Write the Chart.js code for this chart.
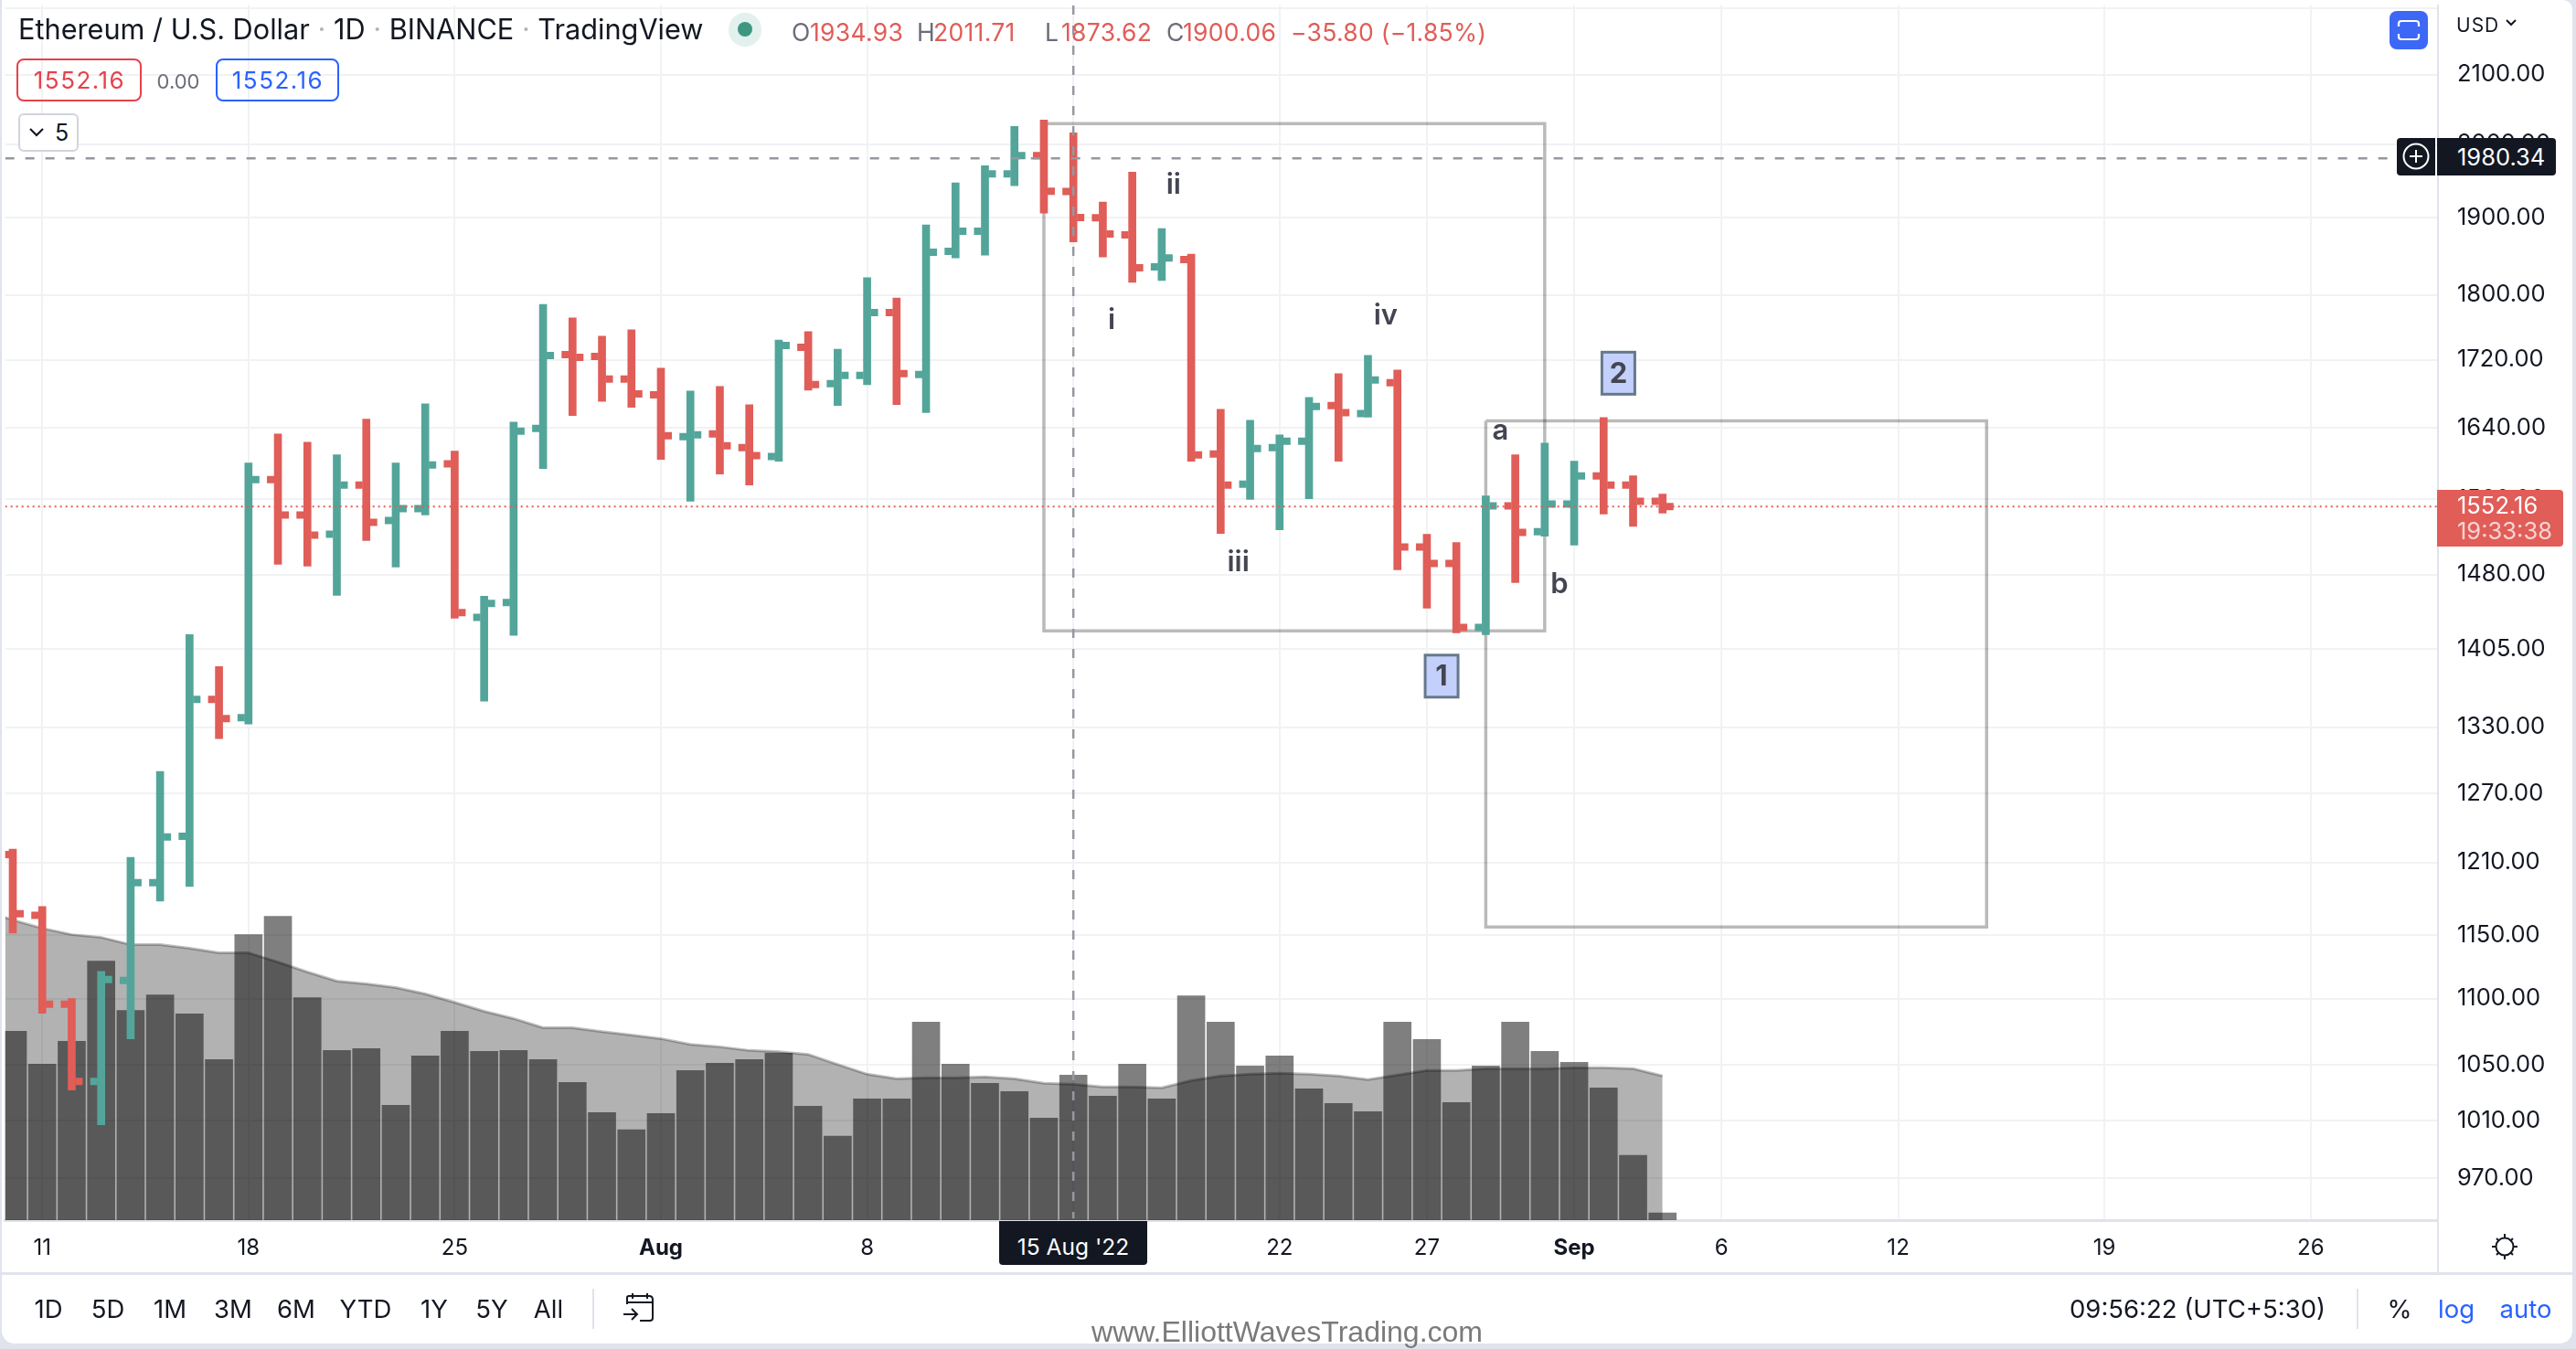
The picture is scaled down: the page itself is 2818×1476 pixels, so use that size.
<!DOCTYPE html>
<html>
<head>
<meta charset="utf-8">
<title>Ethereum / U.S. Dollar</title>
<script src="https://cdn.jsdelivr.net/npm/chart.js@4/dist/chart.umd.js"></script>
<style>
  html, body { margin: 0; padding: 0; background: #e0e3eb; }
  body { width: 2818px; height: 1476px; overflow: hidden; font-family: Inter, sans-serif; color: #131722; position: relative; }
  #frame { position: absolute; left: 2px; top: 0; width: 2812px; height: 1470px; background: #fff; border-radius: 0 10px 14px 14px; }
  canvas { position: absolute; left: 0; top: 0; }
  .t { position: absolute; white-space: nowrap; line-height: 1; }
  .c { transform: translateX(-50%); }
  .red { color: #e05d58; }
  .blue { color: #2962ff; }
  .ohlc { font-size: 26.5px; letter-spacing: 0.3px; top: 22px; }
  .bar { font-size: 27.5px; top: 1419px; }
  .box { position: absolute; box-sizing: border-box; }
</style>
</head>
<body>
<div id="frame"></div>
<canvas id="chart" width="2818" height="1476"></canvas>

<div class="t" style="left:20px;top:17px;font-size:30.7px">Ethereum / U.S. Dollar <span style="color:#b2b5be">·</span> 1D <span style="color:#b2b5be">·</span> BINANCE <span style="color:#b2b5be">·</span> TradingView</div>
<div class="box" style="left:797px;top:14px;width:36px;height:37px;border-radius:18px;background:#e3f1ee"></div>
<div class="box" style="left:807px;top:24px;width:16px;height:16px;border-radius:8px;background:#3f9680"></div>
<div class="t ohlc" style="left:866px;color:#6a6d78">O</div><div class="t ohlc red" style="left:886px">1934.93</div>
<div class="t ohlc" style="left:1003px;color:#6a6d78">H</div><div class="t ohlc red" style="left:1021px">2011.71</div>
<div class="t ohlc" style="left:1143px;color:#6a6d78">L</div><div class="t ohlc red" style="left:1161px">1873.62</div>
<div class="t ohlc" style="left:1276px;color:#6a6d78">C</div><div class="t ohlc red" style="left:1294px">1900.06</div>
<div class="t ohlc red" style="left:1412px">−35.80 (−1.85%)</div>

<div class="box" style="left:18px;top:64px;width:137px;height:47px;border:2px solid #e5424b;border-radius:8px"></div>
<div class="t c" style="left:87px;top:75px;font-size:26px;letter-spacing:1.5px;color:#e5424b">1552.16</div>
<div class="t c" style="left:195px;top:78px;font-size:22px;color:#6a6d78">0.00</div>
<div class="box" style="left:236px;top:64px;width:135px;height:47px;border:2px solid #2962ff;border-radius:8px"></div>
<div class="t c blue" style="left:304px;top:75px;font-size:26px;letter-spacing:1.5px">1552.16</div>
<div class="box" style="left:20px;top:124px;width:66px;height:42px;border:2px solid #d1d4dc;border-radius:6px;background:#fff"></div>
<svg class="box" style="left:31px;top:138px" width="18" height="14"><path d="M2 3 L9 10 L16 3" fill="none" stroke="#131722" stroke-width="2.2"/></svg>
<div class="t" style="left:60px;top:133px;font-size:25px">5</div>

<div class="box" style="left:2614px;top:12px;width:42px;height:42px;background:#3d68f5;border-radius:8px"></div>
<svg class="box" style="left:2622px;top:20px" width="26" height="26"><path d="M2 9 V6 Q2 3 5 3 H21 Q24 3 24 6 V9 M2 17 V20 Q2 23 5 23 H21 Q24 23 24 20 V17" fill="none" stroke="#fff" stroke-width="2.2"/></svg>
<div class="t" style="left:2687px;top:17px;font-size:21px;letter-spacing:1px">USD</div>
<svg class="box" style="left:2740px;top:20px" width="14" height="10"><path d="M2 2 L7 7 L12 2" fill="none" stroke="#131722" stroke-width="2"/></svg>

<div class="box" style="left:2622px;top:151px;width:42px;height:41px;background:#131722;border-radius:4px 0 0 4px"></div>
<svg class="box" style="left:2628px;top:156px" width="30" height="30"><circle cx="15" cy="15" r="13.5" fill="none" stroke="#fff" stroke-width="2"/><path d="M15 8 V22 M8 15 H22" stroke="#fff" stroke-width="2"/></svg>
<div class="box" style="left:2666px;top:151px;width:130px;height:41px;background:#131722;border-radius:0 4px 4px 0"></div>
<div class="t" style="left:2688px;top:159px;font-size:25.5px;color:#fff">1980.34</div>

<div class="box" style="left:2666px;top:536px;width:138px;height:62px;background:#e05d58;border-radius:0 4px 4px 0"></div>
<div class="t" style="left:2688px;top:540px;font-size:25.5px;color:#fff">1552.16</div>
<div class="t" style="left:2688px;top:568px;font-size:25.5px;color:#f7d4d2">19:33:38</div>

<div class="box" style="left:1093px;top:1336px;width:162px;height:48px;background:#131722;border-radius:0 0 4px 4px"></div>
<div class="t c" style="left:1174px;top:1352px;font-size:24.5px;color:#fff">15 Aug '22</div>

<svg class="box" style="left:2724px;top:1348px" width="32" height="32"><circle cx="16" cy="16" r="9.5" fill="none" stroke="#131722" stroke-width="2"/><path d="M16 2 V7 M16 25 V30 M2 16 H7 M25 16 H30 M7 7 L10 10 M25 7 L22 10 M7 25 L10 22 M25 25 L22 22" stroke="#131722" stroke-width="2"/></svg>

<div class="box" style="left:2px;top:1392px;width:2812px;height:3px;background:#e0e3eb"></div>
<div class="box" style="left:2666px;top:1336px;width:2px;height:56px;background:#e0e3eb"></div>

<div class="t c bar" style="left:53px">1D</div>
<div class="t c bar" style="left:118px">5D</div>
<div class="t c bar" style="left:186px">1M</div>
<div class="t c bar" style="left:255px">3M</div>
<div class="t c bar" style="left:324px">6M</div>
<div class="t c bar" style="left:400px">YTD</div>
<div class="t c bar" style="left:475px">1Y</div>
<div class="t c bar" style="left:538px">5Y</div>
<div class="t c bar" style="left:600px">All</div>
<div class="box" style="left:648px;top:1410px;width:2px;height:44px;background:#e0e3eb"></div>
<svg class="box" style="left:680px;top:1414px" width="38" height="34"><path d="M6 13 V6 Q6 4 8 4 H30 Q34 4 34 8 V28 Q34 31 31 31 H20 M6 11 H34 M12 1 V7 M28 1 V7 M2 24 H16 M11 18 L17 24 L11 30" fill="none" stroke="#131722" stroke-width="2"/></svg>

<div class="t bar" style="left:2264px">09:56:22 (UTC+5:30)</div>
<div class="box" style="left:2578px;top:1410px;width:2px;height:44px;background:#e0e3eb"></div>
<div class="t c bar" style="left:2625px">%</div>
<div class="t c bar blue" style="left:2687px">log</div>
<div class="t c bar blue" style="left:2763px">auto</div>
<div class="t c" style="left:1408px;top:1441px;font-size:32px;font-family:'Liberation Sans',sans-serif;color:#7a7a7a">www.ElliottWavesTrading.com</div>

<script>
// day index 0 is 11 Jul 2022, first bar is one day earlier
const firstDay = -1;
const opens = [1216.6,1166,1095.7,1038,1114,1193,1232.3,1356.2,1338.9,1581.7,1542.9,1522.3,1575.6,1537,1549.9,1599.1,1436.3,1451.2,1639.3,1726.3,1724,1696.8,1678.3,1629.9,1633,1617.5,1607.3,1735,1691.4,1701.2,1777.8,1702.3,1855.5,1881.8,1959,1984.2,1934.93,1899.8,1877,1835.5,1844.8,1610.3,1576.6,1617.5,1624.7,1665.7,1656.4,1692.5,1508.8,1491.5,1426.3,1552.8,1525.1,1554.8,1585.8,1575.6,1557.8];
const highs = [1221.2,1173.2,1099.9,1121.1,1214.3,1289.4,1419.1,1387.6,1600.1,1633,1623.6,1609.3,1649.9,1600.1,1667.8,1613.4,1457.7,1646.7,1788,1771.1,1748.5,1756.4,1709.9,1682.7,1688.1,1666.8,1744,1754.2,1732.8,1821.6,1796,1890.2,1946.6,1970.1,2025,2034,2016,1920.6,1961.4,1885.4,1851.9,1661.5,1648.8,1632,1675.2,1703.4,1725.2,1707.8,1522.3,1513.6,1563.7,1609.3,1622.6,1602.2,1651.9,1585.8,1565.7];
const lows = [1151.6,1088.7,1031.8,1007,1069.4,1177.6,1189.8,1319.5,1333,1490.6,1488.7,1458.6,1515.5,1487.7,1542.9,1435.4,1354.4,1418.2,1594,1654.1,1670.6,1663.6,1604.2,1557.8,1587.9,1575.6,1602.2,1683.8,1665.7,1690.3,1666.8,1657.5,1847.1,1850.7,1942.9,1905.8,1868,1848.3,1815.8,1818.1,1602.2,1523.2,1559.8,1527.1,1560.7,1602.2,1652.2,1484.8,1445.6,1420.9,1419.1,1471.6,1520.3,1510.7,1543.9,1530.6,1544.9];
const closes = [1167.2,1095.7,1038,1114.7,1193,1231.7,1356.2,1338,1581.7,1542.9,1521.3,1575.6,1535,1549.9,1598,1441,1450.3,1636.2,1725.2,1723,1696.8,1679.4,1630.9,1632,1619.5,1608.3,1737.3,1690.3,1701.2,1777.8,1703.4,1854.3,1881.8,1959,1984.2,1935.4,1900.06,1878.2,1834.4,1847.1,1609.3,1575.6,1616.5,1624.7,1664.7,1657.5,1695.7,1508.8,1491.5,1426.3,1552.8,1524.2,1554.8,1585.8,1575.6,1557.8,1552.16];
// thousands of ETH
const volumes = [621,513,588,852,690,741,678,528,939,999,732,558,564,378,540,621,555,558,528,453,354,297,351,492,516,528,549,375,276,399,399,651,513,450,423,336,477,408,513,399,738,651,507,540,432,384,357,651,594,387,507,651,555,519,435,213,24];
// moving average starts one day before the first bar
const volumeMa = [1020,987,960,939,930,906,906,894,879,879,849,816,786,777,765,744,716,687,663,633,633,620,609,597,578,570,558,554,545,512,480,465,468,468,471,465,450,447,438,438,435,459,474,480,483,480,474,462,477,492,492,498,498,498,501,501,498,474];

const priceTicks = [2200,2100,2000,1900,1800,1720,1640,1560,1480,1405,1330,1270,1210,1150,1100,1050,1010,970];
const timeTickDays = [0,7,14,21,28,35,42,47,52,57,63,70,77];
const timeTickLabels = ['11','18','25','Aug','8','15','22','27','Sep','6','12','19','26'];
const boldTimeLabels = ['Aug','Sep'];

const lastPrice = 1552.16;
const crossPrice = 1980.34;
const crossDay = 35;

// [first day, last day, top price, bottom price]
const box1 = [34, 51, 2029, 1422.7];
const box2 = [49, 66, 1648, 1156.4];

const waveLabels = ['i','ii','iii','iv','a','b'];
const waveDays = [36.3,38.4,40.6,45.6,49.5,51.5];
const wavePrices = [1767.7,1943,1492.5,1773.3,1636.2,1469.8];
const tagLabels = ['1','2'];
const tagDays = [47.5,53.5];
const tagPrices = [1378.4,1703.9];

const RED = '#e05d58';
const TEAL = '#53a59a';
const GRID = '#f1f2f3';
const LINE = '#e0e3eb';
const dayPx = 32.26;
const tickShift = 8 / dayPx;
const xMin = (3 - 43.6) / dayPx;
const xMax = (2667 - 43.6) / dayPx;

const days = opens.map((_, i) => i + firstDay);
const upOrDown = (i) => (closes[i] >= opens[i] ? TEAL : RED);
const boxPath = (b) => [
  { x: b[0], y: b[2] }, { x: b[1], y: b[2] }, { x: b[1], y: b[3] }, { x: b[0], y: b[3] }, { x: b[0], y: b[2] }
];
const overlayLine = (data, color, dash, order, width) => ({
  type: 'line', data, yAxisID: 'y', order, borderColor: color, borderWidth: width, borderDash: dash,
  pointRadius: 0, tension: 0, fill: false, borderJoinStyle: 'miter'
});
const tickPoints = (values, shift, order) => ({
  type: 'line', yAxisID: 'y', order, showLine: false, pointStyle: 'rect', pointRadius: 5.657, pointBorderWidth: 0,
  pointBackgroundColor: (ctx) => upOrDown(ctx.dataIndex),
  data: values.map((v, i) => ({ x: days[i] + shift, y: v }))
});

const wavePlugin = {
  id: 'waves',
  afterDatasetsDraw(chart) {
    const { ctx, scales } = chart;
    ctx.save();
    ctx.textAlign = 'center';
    ctx.textBaseline = 'middle';
    ctx.fillStyle = '#434651';
    ctx.font = '600 31px Inter';
    waveLabels.forEach((t, i) => {
      ctx.fillText(t, scales.x.getPixelForValue(waveDays[i]), scales.y.getPixelForValue(wavePrices[i]));
    });
    tagLabels.forEach((t, i) => {
      const x = scales.x.getPixelForValue(tagDays[i]);
      const y = scales.y.getPixelForValue(tagPrices[i]);
      ctx.fillStyle = '#c3d0fb';
      ctx.fillRect(x - 18, y - 23, 36, 46);
      ctx.strokeStyle = '#66788b';
      ctx.lineWidth = 3;
      ctx.strokeRect(x - 18, y - 23, 36, 46);
      ctx.fillStyle = '#434651';
      ctx.font = '700 31px Inter';
      ctx.fillText(t, x, y + 1);
    });
    ctx.restore();
  }
};

new Chart(document.getElementById('chart'), {
  data: {
    datasets: [
      overlayLine([{ x: xMin, y: crossPrice }, { x: xMax - 1.4, y: crossPrice }], '#9598a1', [10, 12], 1, 2.5),
      overlayLine([{ x: crossDay, y: 2204 }, { x: crossDay, y: 943 }], '#9598a1', [10, 12], 1, 2.5),
      overlayLine([{ x: xMin, y: lastPrice }, { x: xMax, y: lastPrice }], RED, [2, 4], 1, 2),
      tickPoints(opens, -tickShift, 3),
      tickPoints(closes, tickShift, 3),
      {
        type: 'bar', yAxisID: 'y', order: 4, grouped: false, barThickness: 8, borderWidth: 0,
        backgroundColor: (ctx) => upOrDown(ctx.dataIndex),
        data: days.map((d, i) => ({ x: d, y: [lows[i], highs[i]] }))
      },
      overlayLine(boxPath(box1), 'rgba(0,0,0,0.27)', [], 5, 3.5),
      overlayLine(boxPath(box2), 'rgba(0,0,0,0.27)', [], 5, 3.5),
      {
        type: 'bar', yAxisID: 'yVol', order: 6, grouped: false, barThickness: 30, borderWidth: 0,
        backgroundColor: 'rgba(0,0,0,0.5)',
        data: days.map((d, i) => ({ x: d, y: volumes[i] }))
      },
      {
        type: 'line', yAxisID: 'yVol', order: 7, pointRadius: 0, tension: 0, fill: 'origin',
        backgroundColor: 'rgba(0,0,0,0.3)', borderColor: 'rgba(0,0,0,0.25)', borderWidth: 3,
        data: volumeMa.map((v, i) => ({ x: i + firstDay - 1, y: v }))
      }
    ]
  },
  options: {
    responsive: false,
    animation: false,
    layout: { padding: { left: 3, top: 3, right: 4, bottom: 84 } },
    plugins: { legend: { display: false }, tooltip: { enabled: false } },
    scales: {
      x: {
        type: 'linear', min: xMin, max: xMax, offset: false,
        afterBuildTicks: (s) => { s.ticks = timeTickDays.map((v) => ({ value: v })); },
        afterFit: (s) => { s.height = 57; s.paddingLeft = 0; s.paddingRight = 0; },
        // bar datasets turn grid.offset on for the index axis, keep lines on the ticks
        grid: { color: GRID, lineWidth: 2, drawTicks: false, offset: false },
        border: { color: LINE, width: 3 },
        ticks: {
          autoSkip: false, maxRotation: 0, padding: 16, color: '#131722',
          font: (ctx) => ({
            family: 'Inter', size: 24,
            weight: boldTimeLabels.includes(timeTickLabels[ctx.index]) ? '700' : '400'
          }),
          callback: (v, i) => timeTickLabels[i]
        }
      },
      y: {
        type: 'logarithmic', position: 'right', min: 942, max: 2204.4, bounds: 'data',
        afterBuildTicks: (s) => { s.ticks = priceTicks.map((v) => ({ value: v })); },
        afterFit: (s) => { s.width = 147; s.paddingTop = 0; s.paddingBottom = 0; },
        grid: { color: GRID, lineWidth: 2, drawTicks: false },
        border: { color: LINE, width: 2 },
        ticks: {
          autoSkip: false, padding: 21, crossAlign: 'near', color: '#131722',
          font: { family: 'Inter', size: 25.5 },
          callback: (v) => (v > 2100 ? '' : v.toFixed(2))
        }
      },
      yVol: { type: 'linear', display: false, min: 0, max: 3996 }
    }
  },
  plugins: [wavePlugin]
});
</script>
</body>
</html>
